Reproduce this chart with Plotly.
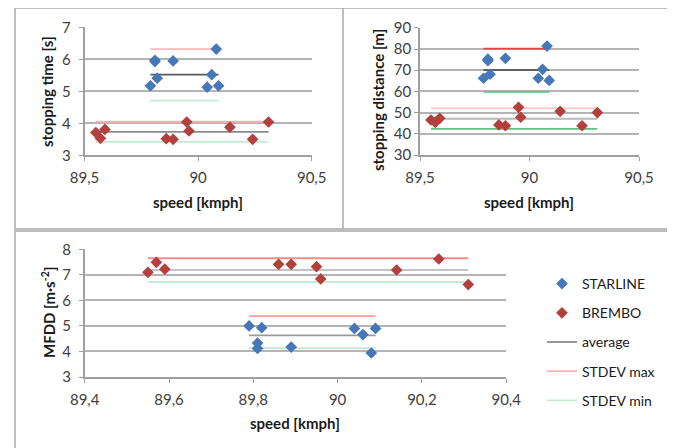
import plotly.graph_objects as go

# ---- data ----
starline_speed = [89.79, 89.81, 89.81, 89.82, 89.89, 90.04, 90.06, 90.08, 90.09]
brembo_speed = [89.55, 89.57, 89.59, 89.86, 89.89, 89.95, 89.96, 90.14, 90.24, 90.31]

starline_time = [5.17, 5.97, 5.93, 5.41, 5.95, 5.13, 5.52, 6.32, 5.17]
brembo_time = [3.71, 3.53, 3.81, 3.52, 3.50, 4.04, 3.76, 3.88, 3.50, 4.04]

starline_dist = [66.2, 75.2, 74.5, 68.1, 75.6, 66.2, 70.4, 81.4, 65.2]
brembo_dist = [46.5, 45.4, 47.3, 44.2, 43.8, 52.5, 47.8, 50.6, 43.8, 50.0]

starline_mfdd = [5.00, 4.33, 4.12, 4.93, 4.17, 4.90, 4.66, 3.94, 4.90]
brembo_mfdd = [7.10, 7.49, 7.22, 7.41, 7.41, 7.32, 6.84, 7.19, 7.62, 6.62]

# average, STDEV max, STDEV min
starline_time_stats = [5.52, 6.32, 4.71]
brembo_time_stats = [3.73, 4.05, 3.42]
starline_dist_stats = [70.1, 80.2, 59.8]
brembo_dist_stats = [47.1, 52.0, 42.3]
starline_mfdd_stats = [4.63, 5.38, 4.13]
brembo_mfdd_stats = [7.19, 7.65, 6.72]

stat_names = ["average", "STDEV max", "STDEV min"]
x_title = "speed [kmph]"
y_titles = ["stopping time [s]", "stopping distance [m]", "MFDD [m·s<sup>-2</sup>]"]

# page body has an 8px margin -> figure drawn 8px in from the window corner
OFF = 8
W, H = 675 - OFF, 448 - OFF
BLUE = "#4677b8"
RED = "#b3403d"
FONT = "Lato"
LEG_COLS = ["#8c8c8c", "#ffb0b0", "#c4ead2"]

fig = go.Figure()


def px_x(p):
    return (p - OFF) / W


def px_y(p):
    return 1 - (p - OFF) / H


panels = [
    ("x", "y", (84.5, 311.7), (27.3, 155.3)),
    ("x2", "y2", (420, 639), (27.8, 155.0)),
    ("x3", "y3", (84.7, 506.2), (249.3, 377.0)),
]

marker_traces = []


def add_panel(idx, s_vals, b_vals, s_stats, b_stats, s_cols, b_cols, legend=False):
    xa, ya = panels[idx][0], panels[idx][1]
    for k in range(3):
        for speeds, stats, cols, show in ((starline_speed, s_stats, s_cols, False),
                                          (brembo_speed, b_stats, b_cols, legend)):
            fig.add_trace(go.Scatter(
                x=[min(speeds), max(speeds)], y=[stats[k], stats[k]],
                mode="lines", name=stat_names[k],
                line=dict(color=LEG_COLS[k] if show else cols[k], width=1.8),
                xaxis=xa, yaxis=ya, showlegend=show, legendrank=3 + k,
                legendgroup="g%d" % (k + 3)))
    marker_traces.append(go.Scatter(
        x=starline_speed, y=s_vals, mode="markers", name="STARLINE",
        marker=dict(symbol="diamond", size=9, color=BLUE),
        xaxis=xa, yaxis=ya, showlegend=legend, legendrank=1, legendgroup="g1"))
    marker_traces.append(go.Scatter(
        x=brembo_speed, y=b_vals, mode="markers", name="BREMBO",
        marker=dict(symbol="diamond", size=9, color=RED),
        xaxis=xa, yaxis=ya, showlegend=legend, legendrank=2, legendgroup="g2"))


add_panel(0, starline_time, brembo_time, starline_time_stats, brembo_time_stats,
          ["#5a5a5a", "#ffb6b6", "#c4ead2"], ["#b8b8b8", "#ffb6b6", "#c4ead2"], legend=True)
add_panel(1, starline_dist, brembo_dist, starline_dist_stats, brembo_dist_stats,
          ["#606060", "#e04545", "#62c083"], ["#b8b8b8", "#ffc4c4", "#62c083"])
add_panel(2, starline_mfdd, brembo_mfdd, starline_mfdd_stats, brembo_mfdd_stats,
          ["#9a9a9a", "#ff9c9c", "#c4ead2"], ["#c4c4c4", "#ff8a8a", "#c4ead2"])

for t in marker_traces:
    fig.add_trace(t)

GRID = "#b4b4b4"
AX = "#a0a0a0"
tickfont = dict(family=FONT, size=15, color="#404040")
titlefont = dict(family=FONT, size=15, color="#1a1a1a")

axis_cfg = [
    ((89.5, 90.5), 0.5, (3, 7), 1),
    ((89.5, 90.5), 0.5, (30, 90), 10),
    ((89.4, 90.4), 0.2, (3, 8), 1),
]
# title anchor positions (px in window)
x_title_pos = [(198, 202), (529, 202), (295, 423)]
y_title_pos = [(47, 92), (378, 100), (48, 313)]

layout_axes = {}
annotations = []
for i, (xa, ya, xd, yd) in enumerate(panels):
    xr, xdt, yr, ydt = axis_cfg[i]
    xname = "xaxis" if i == 0 else "xaxis%d" % (i + 1)
    yname = "yaxis" if i == 0 else "yaxis%d" % (i + 1)
    layout_axes[xname] = dict(
        domain=[px_x(xd[0]), px_x(xd[1])], range=list(xr), dtick=xdt, tick0=xr[0],
        anchor=ya, showgrid=False, zeroline=False, showline=True, linecolor=AX, linewidth=1.5,
        ticks="outside", ticklen=4, tickcolor=AX, tickfont=tickfont, ticklabelstandoff=4,
        automargin=False,
    )
    layout_axes[yname] = dict(
        domain=[px_y(yd[1]), px_y(yd[0])], range=list(yr), dtick=ydt, tick0=yr[0],
        anchor=xa, showgrid=True, gridcolor=GRID, gridwidth=1.5, zeroline=False,
        showline=True, linecolor=AX, linewidth=1.5, automargin=False,
        ticks="outside", ticklen=4, tickcolor=AX, tickfont=tickfont,
        ticklabelstandoff=5 if i != 1 else 0,
    )
    annotations.append(dict(
        text="<b>%s</b>" % x_title, xref="paper", yref="paper",
        x=px_x(x_title_pos[i][0]), y=px_y(x_title_pos[i][1]),
        xanchor="center", yanchor="middle", showarrow=False, font=titlefont))
    annotations.append(dict(
        text="<b>%s</b>" % y_titles[i], xref="paper", yref="paper",
        x=px_x(y_title_pos[i][0]), y=px_y(y_title_pos[i][1]), textangle=-90,
        xanchor="center", yanchor="middle", showarrow=False, font=titlefont))

shapes = [
    dict(type="rect", xref="paper", yref="paper", x0=px_x(15), x1=px_x(668), y0=px_y(229), y1=px_y(8),
         line=dict(color="#a8a8a8", width=1.5)),
    dict(type="line", xref="paper", yref="paper", x0=px_x(343), x1=px_x(343), y0=px_y(229), y1=px_y(8),
         line=dict(color="#a8a8a8", width=1.5)),
    dict(type="rect", xref="paper", yref="paper", x0=px_x(15), x1=px_x(670), y0=px_y(470), y1=px_y(231),
         line=dict(color="#a8a8a8", width=1.5)),
]

fig.update_layout(
    width=W, height=H,
    margin=dict(l=0, r=0, t=0, b=0, autoexpand=False),
    paper_bgcolor="white", plot_bgcolor="white",
    separators=", ",
    font=dict(family=FONT, size=14, color="#404040"),
    shapes=shapes,
    annotations=annotations,
    legend=dict(x=px_x(542), y=px_y(268), xanchor="left", yanchor="top",
                traceorder="grouped", tracegroupgap=8,
                font=dict(family=FONT, size=14, color="#1a1a1a"),
                bgcolor="rgba(0,0,0,0)"),
    **layout_axes,
)

fig.write_html("out.html")
